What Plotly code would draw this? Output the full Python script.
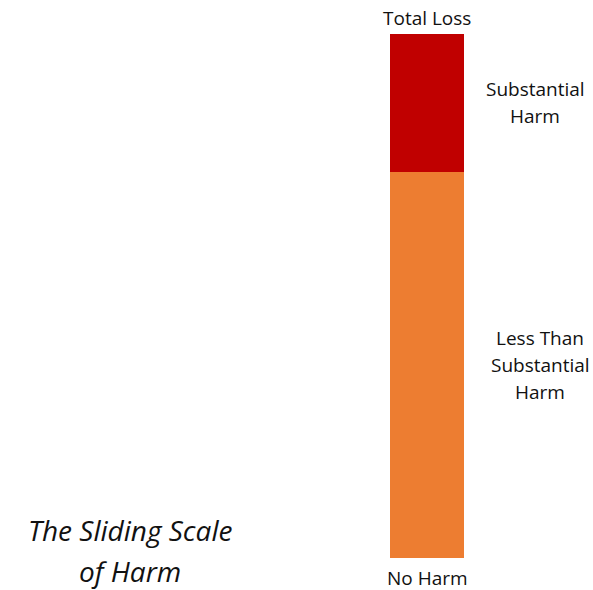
import plotly.graph_objects as go

# Data
categories = ["Harm"]
segment_names = ["Less Than Substantial Harm", "Substantial Harm"]
segment_values = [73.7, 26.3]
segment_colors = ["#ED7D31", "#C00000"]
segment_labels = [["Less Than", "Substantial", "Harm"], ["Substantial", "Harm"]]
end_labels = {"top": "Total Loss", "bottom": "No Harm"}
title_lines = ["The Sliding Scale", "of Harm"]

W, H = 593, 590
T, B = 34, 32
FONT = "Open Sans"
PH = H - T - B

fig = go.Figure()
for name, val, col in zip(segment_names, segment_values, segment_colors):
    fig.add_trace(go.Bar(x=[0], y=[val], name=name, marker=dict(color=col, line=dict(width=0)),
                         width=1, showlegend=False, hoverinfo="skip"))

total = sum(segment_values)
ann = []
label_x = [1.53, 1.46]
base = 0
for vals, lines, lx in zip(segment_values, segment_labels, label_x):
    mid = base + vals / 2
    n = len(lines)
    for i, line in enumerate(lines):
        shift = ((n - 1) / 2 - i) * 27
        ann.append(dict(x=lx, y=mid, xref="x", yref="y", text=line, showarrow=False,
                        yshift=shift, font=dict(family=FONT, size=19, color="#111111")))
    base += vals

ann.append(dict(x=0, y=total, xref="x", yref="y", text=end_labels["top"], showarrow=False,
                yshift=16, font=dict(family=FONT, size=19, color="#111111")))
ann.append(dict(x=0, y=0, xref="x", yref="y", text=end_labels["bottom"], showarrow=False,
                yshift=-20, font=dict(family=FONT, size=19, color="#111111")))

for i, line in enumerate(title_lines):
    ann.append(dict(x=130 / W, y=(H - B - (530 + 41 * i)) / PH, xref="paper", yref="paper",
                    text="<i>" + line + "</i>", showarrow=False, xanchor="center", yanchor="middle",
                    font=dict(family=FONT, size=28, color="#111111")))

fig.update_layout(
    barmode="stack",
    width=W, height=H,
    margin=dict(l=0, r=0, t=T, b=B),
    paper_bgcolor="white", plot_bgcolor="white",
    xaxis=dict(range=[-427 / 74, (W - 427) / 74], visible=False),
    yaxis=dict(range=[0, total], visible=False),
    annotations=ann,
)

fig.write_html("out.html")
